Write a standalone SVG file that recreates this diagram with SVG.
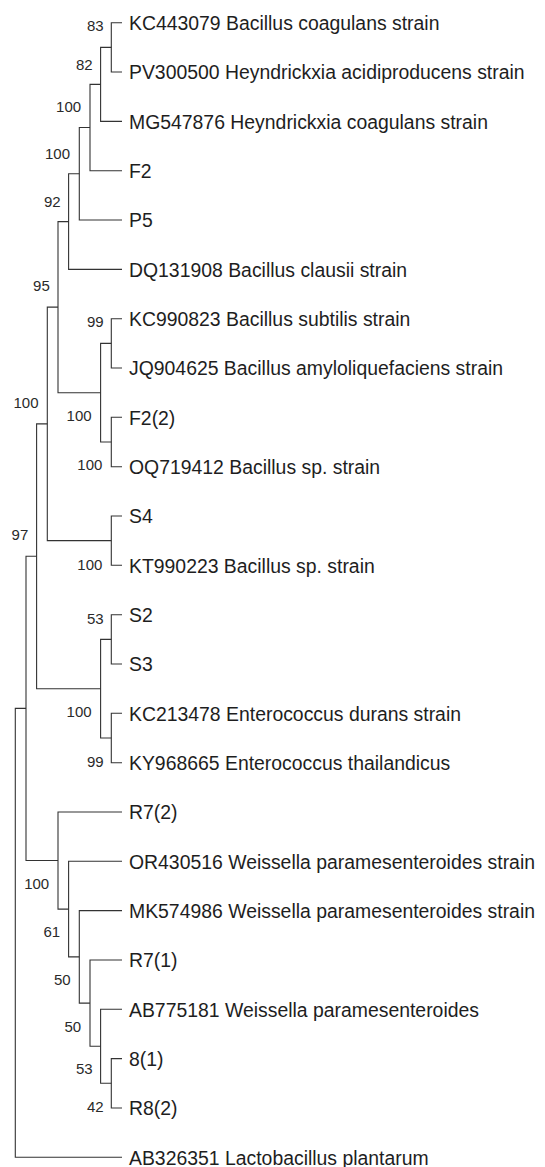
<svg xmlns="http://www.w3.org/2000/svg" width="545" height="1167" viewBox="0 0 545 1167">
<style>
.e{fill:none;stroke:#333;stroke-width:1.1}
.t{font-family:"Liberation Sans",Arial,sans-serif;font-size:19.4px;fill:#1e1e1e}
.b{font-family:"Liberation Sans",Arial,sans-serif;font-size:15px;fill:#2a2a2a;text-anchor:end}
</style>
<rect width="545" height="1167" fill="#fff"/>
<g id="connectors">
<path class="e" d="M122 22.7H111.3V72H122"/>
<path class="e" d="M111.3 47.35H100.6V121.4H122"/>
<path class="e" d="M100.6 84.4H90V170.7H122"/>
<path class="e" d="M90 127.55H79.3V220H122"/>
<path class="e" d="M79.3 173.8H68.6V269.4H122"/>
<path class="e" d="M122 318.7H111.3V368H122"/>
<path class="e" d="M122 417.3H111.3V466.7H122"/>
<path class="e" d="M111.3 343.35H100.6V442H111.3"/>
<path class="e" d="M68.6 221.6H58V392.7H100.6"/>
<path class="e" d="M122 516H111.3V565.3H122"/>
<path class="e" d="M58 307.15H47.3V540.65H111.3"/>
<path class="e" d="M122 614.7H111.3V664H122"/>
<path class="e" d="M122 713.3H111.3V762.7H122"/>
<path class="e" d="M111.3 639.35H100.6V738H111.3"/>
<path class="e" d="M47.3 423.9H36.6V688.7H100.6"/>
<path class="e" d="M122 1058.6H111.3V1108H122"/>
<path class="e" d="M122 1009.3H100.6V1083.3H111.3"/>
<path class="e" d="M122 960H90V1046.3H100.6"/>
<path class="e" d="M122 910.6H79.3V1003.15H90"/>
<path class="e" d="M122 861.3H68.6V956.9H79.3"/>
<path class="e" d="M122 812H58V909.1H68.6"/>
<path class="e" d="M36.6 556.3H26V860.55H58"/>
<path class="e" d="M26 708.4H15.3V1157.3H122"/>
</g>
<g id="leaf-KC443079"><text class="t" x="129" y="30">KC443079 Bacillus coagulans strain</text></g>
<g id="leaf-PV300500"><text class="t" x="129" y="79.3">PV300500 Heyndrickxia acidiproducens strain</text></g>
<g id="leaf-MG547876"><text class="t" x="129" y="128.7">MG547876 Heyndrickxia coagulans strain</text></g>
<g id="leaf-F2"><text class="t" x="129" y="178">F2</text></g>
<g id="leaf-P5"><text class="t" x="129" y="227.3">P5</text></g>
<g id="leaf-DQ131908"><text class="t" x="129" y="276.7">DQ131908 Bacillus clausii strain</text></g>
<g id="leaf-KC990823"><text class="t" x="129" y="326">KC990823 Bacillus subtilis strain</text></g>
<g id="leaf-JQ904625"><text class="t" x="129" y="375.3">JQ904625 Bacillus amyloliquefaciens strain</text></g>
<g id="leaf-F2-2"><text class="t" x="129" y="424.6">F2(2)</text></g>
<g id="leaf-OQ719412"><text class="t" x="129" y="474">OQ719412 Bacillus sp. strain</text></g>
<g id="leaf-S4"><text class="t" x="129" y="523.3">S4</text></g>
<g id="leaf-KT990223"><text class="t" x="129" y="572.6">KT990223 Bacillus sp. strain</text></g>
<g id="leaf-S2"><text class="t" x="129" y="622">S2</text></g>
<g id="leaf-S3"><text class="t" x="129" y="671.3">S3</text></g>
<g id="leaf-KC213478"><text class="t" x="129" y="720.6">KC213478 Enterococcus durans strain</text></g>
<g id="leaf-KY968665"><text class="t" x="129" y="770">KY968665 Enterococcus thailandicus</text></g>
<g id="leaf-R7-2"><text class="t" x="129" y="819.3">R7(2)</text></g>
<g id="leaf-OR430516"><text class="t" x="129" y="868.6">OR430516 Weissella paramesenteroides strain</text></g>
<g id="leaf-MK574986"><text class="t" x="129" y="917.9">MK574986 Weissella paramesenteroides strain</text></g>
<g id="leaf-R7-1"><text class="t" x="129" y="967.3">R7(1)</text></g>
<g id="leaf-AB775181"><text class="t" x="129" y="1016.6">AB775181 Weissella paramesenteroides</text></g>
<g id="leaf-8-1"><text class="t" x="129" y="1065.9">8(1)</text></g>
<g id="leaf-R8-2"><text class="t" x="129" y="1115.3">R8(2)</text></g>
<g id="leaf-AB326351"><text class="t" x="129" y="1164.6">AB326351 Lactobacillus plantarum</text></g>
<g id="bootstrap">
<text class="b" x="103.7" y="31.4">83</text>
<text class="b" x="92.6" y="70.1">82</text>
<text class="b" x="81.1" y="112.4">100</text>
<text class="b" x="70" y="159.4">100</text>
<text class="b" x="60.7" y="207.4">92</text>
<text class="b" x="49.8" y="291.4">95</text>
<text class="b" x="103.7" y="327.1">99</text>
<text class="b" x="38.5" y="408.4">100</text>
<text class="b" x="91.6" y="421.4">100</text>
<text class="b" x="102.4" y="470.4">100</text>
<text class="b" x="28.3" y="540.4">97</text>
<text class="b" x="102.4" y="569.9">100</text>
<text class="b" x="103.7" y="624.1">53</text>
<text class="b" x="91.6" y="717.4">100</text>
<text class="b" x="103.7" y="767.4">99</text>
<text class="b" x="49.2" y="889.4">100</text>
<text class="b" x="60.2" y="937.4">61</text>
<text class="b" x="70.7" y="985.4">50</text>
<text class="b" x="81.1" y="1032.4">50</text>
<text class="b" x="92.6" y="1074.4">53</text>
<text class="b" x="103.7" y="1112.4">42</text>
</g>
</svg>
